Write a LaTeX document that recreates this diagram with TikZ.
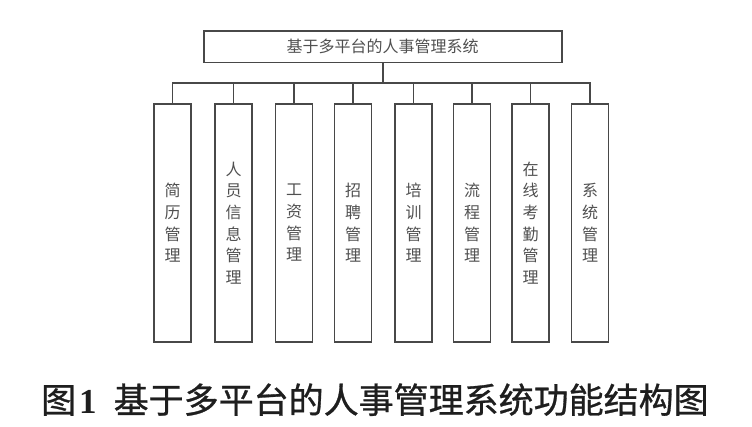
\documentclass[tikz,border=0pt]{standalone}
\usepackage{fontspec}
\newfontfamily\cjk{Noto Sans CJK SC}
\newfontfamily\cjkcap[FakeBold=0.8]{Noto Sans CJK SC}
\newfontfamily\capnum{Liberation Serif}
\definecolor{linegray}{RGB}{72,72,72}
\definecolor{textgray}{RGB}{80,80,80}
\definecolor{captext}{RGB}{30,30,30}
\tikzset{
  conn/.style={draw=linegray, line width=1.8pt},
  topbox/.style={rectangle, draw=linegray, line width=1.8pt, fill=white,
    minimum width=358pt, minimum height=31.5pt, inner sep=0pt,
    font=\cjk\fontsize{16}{16}\selectfont, text=textgray},
  childbox/.style={rectangle, draw=linegray, line width=1.8pt, fill=white,
    minimum width=37pt, minimum height=238pt, inner sep=0pt, align=center,
    font=\cjk\fontsize{16}{21.7}\selectfont, text=textgray},
  captionstyle/.style={inner sep=0pt, anchor=base west, text=captext}
}
\begin{document}
\begin{tikzpicture}[x=1pt,y=-1pt]
\fill[white] (0,0) rectangle (752,427);
\useasboundingbox (0,0) rectangle (752,427);
\node[topbox] (top) at (382.7,46.7) {基于多平台的人事管理系统};
\coordinate (bus) at (382.7,83.3);
\node[childbox] (c1) at (172.5,223) {简\\历\\管\\理};
\node[childbox] (c2) at (233.5,223) {人\\员\\信\\息\\管\\理};
\node[childbox] (c3) at (294,223) {工\\资\\管\\理};
\node[childbox] (c4) at (353,223) {招\\聘\\管\\理};
\node[childbox] (c5) at (413.5,223) {培\\训\\管\\理};
\node[childbox] (c6) at (472,223) {流\\程\\管\\理};
\node[childbox] (c7) at (530.5,223) {在\\线\\考\\勤\\管\\理};
\node[childbox] (c8) at (590,223) {系\\统\\管\\理};
\draw[conn] (top.south) -- (bus);
\draw[conn] (c1.north) -- (c1.north |- bus) -- (c8.north |- bus) -- (c8.north);
\foreach \i in {2,...,7} {\draw[conn] (c\i.north) -- (c\i.north |- bus);}
\node[captionstyle] (cap) at (41,413) {\fontsize{35}{35}\selectfont{\cjkcap 图}\hspace{3pt}{\capnum\bfseries 1}\hspace{17pt}{\cjkcap 基于多平台的人事管理系统功能结构图}};
\end{tikzpicture}
\end{document}
